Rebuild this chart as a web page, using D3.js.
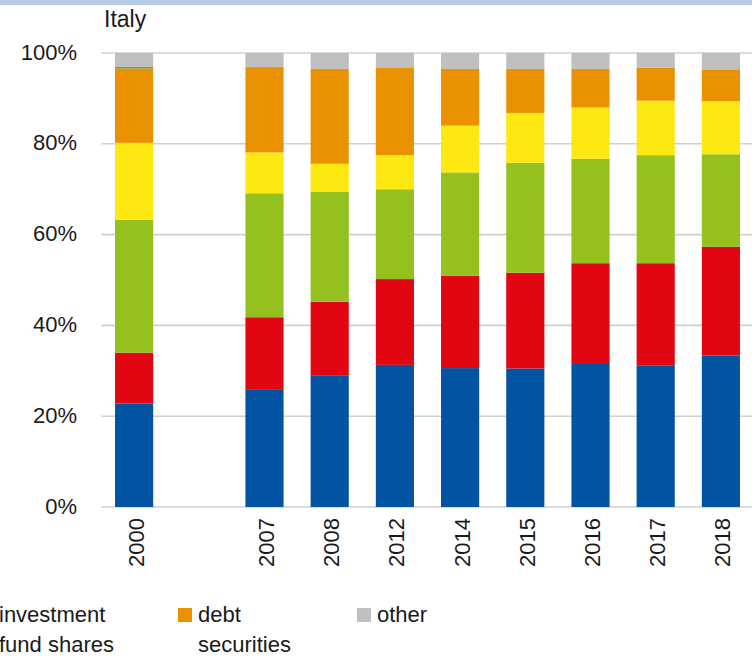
<!DOCTYPE html>
<html>
<head>
<meta charset="utf-8">
<script src="https://cdn.jsdelivr.net/npm/d3@7/dist/d3.min.js"></script>
<style>
  html, body { margin: 0; padding: 0; background: #fff; }
  svg { display: block; }
</style>
</head>
<body>
<svg id="chart" width="752" height="659"></svg>
<script>
// ---- data (shares of total, %) ----
const categories = ["2000", "", "2007", "2008", "2012", "2014", "2015", "2016", "2017", "2018"];
const blueValues   = [22.8, null, 25.8, 28.9, 31.3, 30.6, 30.5, 31.5, 31.1, 33.4];
const redValues    = [11.2, null, 16.0, 16.3, 18.9, 20.3, 21.1, 22.2, 22.6, 23.9];
const greenValues  = [29.3, null, 27.3, 24.2, 19.8, 22.8, 24.2, 23.0, 23.8, 20.4];
const yellowValues = [16.9, null,  9.0,  6.2,  7.5, 10.3, 11.0, 11.3, 12.0, 11.7];
const orangeValues = [16.4, null, 18.8, 20.9, 19.2, 12.5,  9.7,  8.5,  7.3,  7.0];
const darkGreenValues = [0.3, null, 0, 0, 0, 0, 0, 0, 0, 0];
const otherValues  = [3.1, null, 3.1, 3.5, 3.3, 3.5, 3.5, 3.5, 3.2, 3.6];
const yTicks = [0, 20, 40, 60, 80, 100];
const title = "Italy";

const seriesKeys = ["blue", "red", "green", "yellow", "orange", "darkgreen", "other"];
const seriesColors = {
  blue: "#0254a3", red: "#e20613", green: "#95c11f", yellow: "#fde811",
  orange: "#ea9100", darkgreen: "#4f9a3c", other: "#bfbfbf"
};
const legendItems = [
  { lines: ["investment", "fund shares"], key: "yellow", col: 0 },
  { lines: ["debt", "securities"], key: "orange", col: 1 },
  { lines: ["other"], key: "other", col: 2 }
];

const rows = categories.map((c, i) => ({
  cat: c || "gap",
  blue: blueValues[i] || 0, red: redValues[i] || 0, green: greenValues[i] || 0,
  yellow: yellowValues[i] || 0, orange: orangeValues[i] || 0,
  darkgreen: darkGreenValues[i] || 0, other: otherValues[i] || 0,
  empty: blueValues[i] == null
}));

const svg = d3.select("#chart");
const FONT = "'Liberation Sans', Arial, sans-serif";

// top band
svg.append("rect").attr("x", 0).attr("y", 0).attr("width", 752).attr("height", 5)
  .attr("fill", "#b7cbe3");

const x = d3.scaleBand()
  .domain(rows.map(d => d.cat))
  .range([101.5, 753.5])
  .paddingInner(0.415)
  .paddingOuter(0.2075);

const y = d3.scaleLinear().domain([0, 100]).range([507, 53]);

// gridlines
svg.append("g").selectAll("line").data(yTicks).join("line")
  .attr("x1", 101.5).attr("x2", 752)
  .attr("y1", d => y(d)).attr("y2", d => y(d))
  .attr("stroke", "#d0d0d0").attr("stroke-width", 1.6);

// y axis labels
const yAxis = d3.axisLeft(y).tickValues(yTicks).tickFormat(d => d + "%").tickSize(0).tickPadding(0);
const yg = svg.append("g").attr("transform", "translate(77,0)").call(yAxis);
yg.select(".domain").remove();
yg.selectAll("text").attr("font-family", FONT).attr("font-size", 22).attr("fill", "#1a1a1a")
  .attr("dy", "0.28em");

// stacked bars
const stack = d3.stack().keys(seriesKeys);
const stacked = stack(rows.filter(d => !d.empty));
svg.append("g").selectAll("g").data(stacked).join("g")
  .attr("fill", s => seriesColors[s.key])
  .selectAll("rect").data(s => s).join("rect")
  .attr("x", d => x(d.data.cat))
  .attr("width", x.bandwidth())
  .attr("y", d => y(d[1]))
  .attr("height", d => Math.max(0, y(d[0]) - y(d[1])));

// x axis labels (rotated)
const xAxis = d3.axisBottom(x).tickFormat(d => d === "gap" ? "" : d).tickSize(0).tickPadding(0);
const xg = svg.append("g").attr("transform", "translate(0,507)").call(xAxis);
xg.select(".domain").remove();
xg.selectAll("text")
  .attr("font-family", FONT).attr("font-size", 22).attr("fill", "#1a1a1a")
  .attr("text-anchor", "end")
  .attr("transform", "translate(1.5,11) rotate(-90)")
  .attr("x", 0).attr("y", 0).attr("dy", "0.36em");

// title
svg.append("text").attr("x", 104).attr("y", 27).text(title)
  .attr("font-family", FONT).attr("font-size", 23).attr("fill", "#1a1a1a");

// legend
const colX = [-1, 178, 357];
const lg = svg.append("g").selectAll("g").data(legendItems).join("g")
  .attr("transform", d => `translate(${colX[d.col]},608)`);
lg.append("rect").attr("width", 14).attr("height", 14).attr("fill", d => seriesColors[d.key])
  .attr("x", d => d.col === 0 ? -22 : 0);
lg.each(function(d) {
  const g = d3.select(this);
  d.lines.forEach((t, i) => {
    g.append("text").attr("x", d.col === 0 ? 0 : 20).attr("y", 14 + i * 30).text(t)
      .attr("font-family", FONT).attr("font-size", 22).attr("fill", "#1a1a1a");
  });
});
</script>
</body>
</html>
